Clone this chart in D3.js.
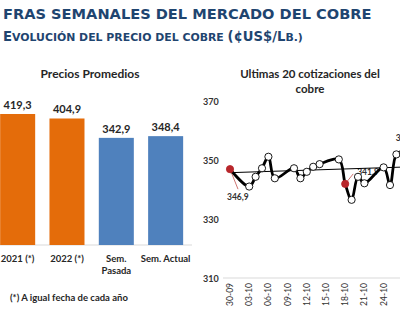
<!DOCTYPE html>
<meta charset="utf-8">
<script src="https://d3js.org/d3.v7.min.js"></script>
<style>
  body { margin: 0; background: #fff; }
  text { font-family: Lato, "Liberation Sans", sans-serif; }
</style>
<div id="my_dataviz"></div>

<script>

  // ---- data ----
  const barCategories = ["2021 (*)", "2022 (*)", "Sem. Pasada", "Sem. Actual"];
  const barValues = [419.3, 404.9, 342.9, 348.4];
  const barLabels = ["419,3", "404,9", "342,9", "348,4"];
  const barColors = ["#e46c0a", "#e46c0a", "#4f81bd", "#4f81bd"];

  const lineDates = ["30-09", "03-10", "04-10", "05-10", "06-10", "07-10", "10-10", "11-10",
    "12-10", "13-10", "14-10", "17-10", "18-10", "19-10", "20-10", "21-10",
    "24-10", "25-10", "26-10", "27-10"];
  const lineValues = [346.9, 341.0, 344.3, 347.2, 351.1, 343.8, 347.2, 343.8,
    346.0, 347.7, 348.6, 350.2, 341.9, 336.5, 344.3, 342.1,
    347.5, 341.5, 351.9, 352.4];
  const trendValues = [345.7, 347.6];   // trend line at first and last date
  const highlighted = [0, 12];          // red markers
  const yTicks = [310, 330, 350, 370];
  const xTickDates = ["30-09", "03-10", "06-10", "09-10", "12-10", "15-10", "18-10", "21-10", "24-10"];

  const W = 400, H = 326;
  const svg = d3.select("#my_dataviz")
    .append("svg")
    .attr("width", W)
    .attr("height", H);

  // ---- header ----
  svg.append("text")
    .attr("x", 3).attr("y", 19)
    .style("font-family", "'DejaVu Sans', Verdana, sans-serif")
    .style("font-weight", "bold")
    .style("font-size", "14.6px")
    .attr("fill", "#1f4570")
    .text("FRAS SEMANALES DEL MERCADO DEL COBRE");

  // small caps made by hand: [text, size]
  const subParts = [["E", 13.2], ["VOLUCIÓN DEL PRECIO DEL COBRE ", 10.9], ["(¢US$/L", 13.2], ["B.)", 10.9]];
  svg.append("text")
    .attr("x", 3).attr("y", 40.5)
    .style("font-family", "'DejaVu Sans', Verdana, sans-serif")
    .style("font-weight", "bold")
    .attr("fill", "#1f4570")
    .selectAll("tspan")
    .data(subParts)
    .join("tspan")
    .style("font-size", d => d[1] + "px")
    .text(d => d[0]);

  // ---- bar chart ----
  const xb = d3.scaleBand()
    .domain(barCategories)
    .range([-7, 190.3])
    .paddingInner(0.29)
    .paddingOuter(0.145);

  const yb = d3.scaleLinear()
    .domain([0, 450])
    .range([245, 104.4]);

  svg.append("text")
    .attr("x", 90).attr("y", 78)
    .attr("text-anchor", "middle")
    .style("font-weight", "bold")
    .style("font-size", "12px")
    .attr("fill", "#262626")
    .text("Precios Promedios");

  svg.append("line")
    .attr("x1", 0).attr("x2", 192)
    .attr("y1", yb(0)).attr("y2", yb(0))
    .attr("stroke", "#d9d9d9");

  svg.selectAll(".bar")
    .data(barValues)
    .join("rect")
    .attr("class", "bar")
    .attr("x", (d, i) => xb(barCategories[i]))
    .attr("width", xb.bandwidth())
    .attr("y", d => yb(d))
    .attr("height", d => yb(0) - yb(d))
    .attr("fill", (d, i) => barColors[i]);

  svg.selectAll(".barlabel")
    .data(barValues)
    .join("text")
    .attr("class", "barlabel")
    .attr("x", (d, i) => xb(barCategories[i]) + xb.bandwidth() / 2)
    .attr("y", d => yb(d) - 5)
    .attr("text-anchor", "middle")
    .style("font-weight", "bold")
    .style("font-size", "11px")
    .attr("fill", "#262626")
    .text((d, i) => barLabels[i]);

  // category labels (wrapped on the dot for "Sem. Pasada")
  const catText = svg.selectAll(".cat")
    .data(barCategories)
    .join("text")
    .attr("class", "cat")
    .attr("text-anchor", "middle")
    .style("font-weight", "bold")
    .style("font-size", "9.5px")
    .attr("fill", "#262626");
  catText.each(function (d) {
    const cx = xb(d) + xb.bandwidth() / 2;
    const lines = d === "Sem. Pasada" ? ["Sem.", "Pasada"] : [d];
    d3.select(this).selectAll("tspan")
      .data(lines)
      .join("tspan")
      .attr("x", cx)
      .attr("y", (l, j) => 262 + j * 11.5)
      .text(l => l);
  });

  svg.append("text")
    .attr("x", 10).attr("y", 301)
    .style("font-weight", "bold")
    .style("font-size", "9.5px")
    .attr("fill", "#262626")
    .text("(*) A igual fecha de cada año");

  // ---- line chart ----
  const parse = s => {
    const [dd, mm] = s.split("-").map(Number);
    return new Date(2022, mm - 1, dd);
  };

  const xl = d3.scaleTime()
    .domain([parse("30-09"), parse("27-10")])
    .range([230, 402.8]);

  const yl = d3.scaleLinear()
    .domain([310, 370])
    .range([278, 101]);

  svg.append("text")
    .attr("text-anchor", "middle")
    .style("font-weight", "bold")
    .style("font-size", "11.5px")
    .attr("fill", "#262626")
    .selectAll("tspan")
    .data(["Ultimas 20 cotizaciones del", "cobre"])
    .join("tspan")
    .attr("x", 310)
    .attr("y", (d, i) => 78 + i * 14.5)
    .text(d => d);

  // y axis labels
  svg.selectAll(".ytick")
    .data(yTicks)
    .join("text")
    .attr("class", "ytick")
    .attr("x", 203)
    .attr("y", d => yl(d) + 3.5)
    .style("font-weight", "bold")
    .style("font-size", "9px")
    .attr("fill", "#333")
    .text(d => d);

  // baseline
  svg.append("line")
    .attr("x1", 223).attr("x2", 400)
    .attr("y1", yl(310)).attr("y2", yl(310))
    .attr("stroke", "#d9d9d9");

  // x labels, rotated
  svg.selectAll(".xtick")
    .data(xTickDates)
    .join("text")
    .attr("class", "xtick")
    .attr("text-anchor", "end")
    .attr("transform", d => `translate(${xl(parse(d)) + 3},283) rotate(-90)`)
    .style("font-size", "8.5px")
    .attr("fill", "#333")
    .text(d => d);

  const pts = lineDates.map((d, i) => [xl(parse(d)), yl(lineValues[i])]);

  // leader lines and data labels
  const p0 = pts[0], p12 = pts[12], pLast = pts[pts.length - 1];
  svg.append("line")
    .attr("x1", p0[0]).attr("y1", p0[1])
    .attr("x2", p0[0] + 8).attr("y2", p0[1] + 20)
    .attr("stroke", "#c0504d").attr("stroke-width", 0.8);
  svg.append("text")
    .attr("x", p0[0] - 3).attr("y", p0[1] + 31)
    .style("font-weight", "bold")
    .style("font-size", "8.5px")
    .attr("fill", "#333")
    .text("346,9");

  svg.append("line")
    .attr("x1", p12[0]).attr("y1", p12[1])
    .attr("x2", p12[0] + 8).attr("y2", p12[1] - 10)
    .attr("stroke", "#c0504d").attr("stroke-width", 0.8);
  svg.append("text")
    .attr("x", p12[0] + 12).attr("y", p12[1] - 9)
    .style("font-weight", "bold")
    .style("font-size", "8.5px")
    .attr("fill", "#333")
    .text("341,9");

  svg.append("text")
    .attr("x", pLast[0] - 7).attr("y", 141)
    .style("font-weight", "bold")
    .style("font-size", "8.5px")
    .attr("fill", "#333")
    .text("352,4");

  // trend line
  svg.append("line")
    .attr("x1", xl(parse(lineDates[0]))).attr("y1", yl(trendValues[0]))
    .attr("x2", xl(parse(lineDates[lineDates.length - 1]))).attr("y2", yl(trendValues[1]))
    .attr("stroke", "#000")
    .attr("stroke-width", 1);

  // smoothed series
  svg.append("path")
    .datum(pts)
    .attr("fill", "none")
    .attr("stroke", "#000")
    .attr("stroke-width", 2.8)
    .attr("stroke-linejoin", "round")
    .attr("d", d3.line().curve(d3.curveCatmullRom.alpha(0.5)));

  svg.selectAll(".pt")
    .data(pts)
    .join("circle")
    .attr("class", "pt")
    .attr("cx", d => d[0])
    .attr("cy", d => d[1])
    .attr("r", 3.6)
    .attr("fill", (d, i) => highlighted.includes(i) ? "#b8262b" : "#fff")
    .attr("stroke", (d, i) => highlighted.includes(i) ? "#b8262b" : "#000")
    .attr("stroke-width", 0.9);

</script>
